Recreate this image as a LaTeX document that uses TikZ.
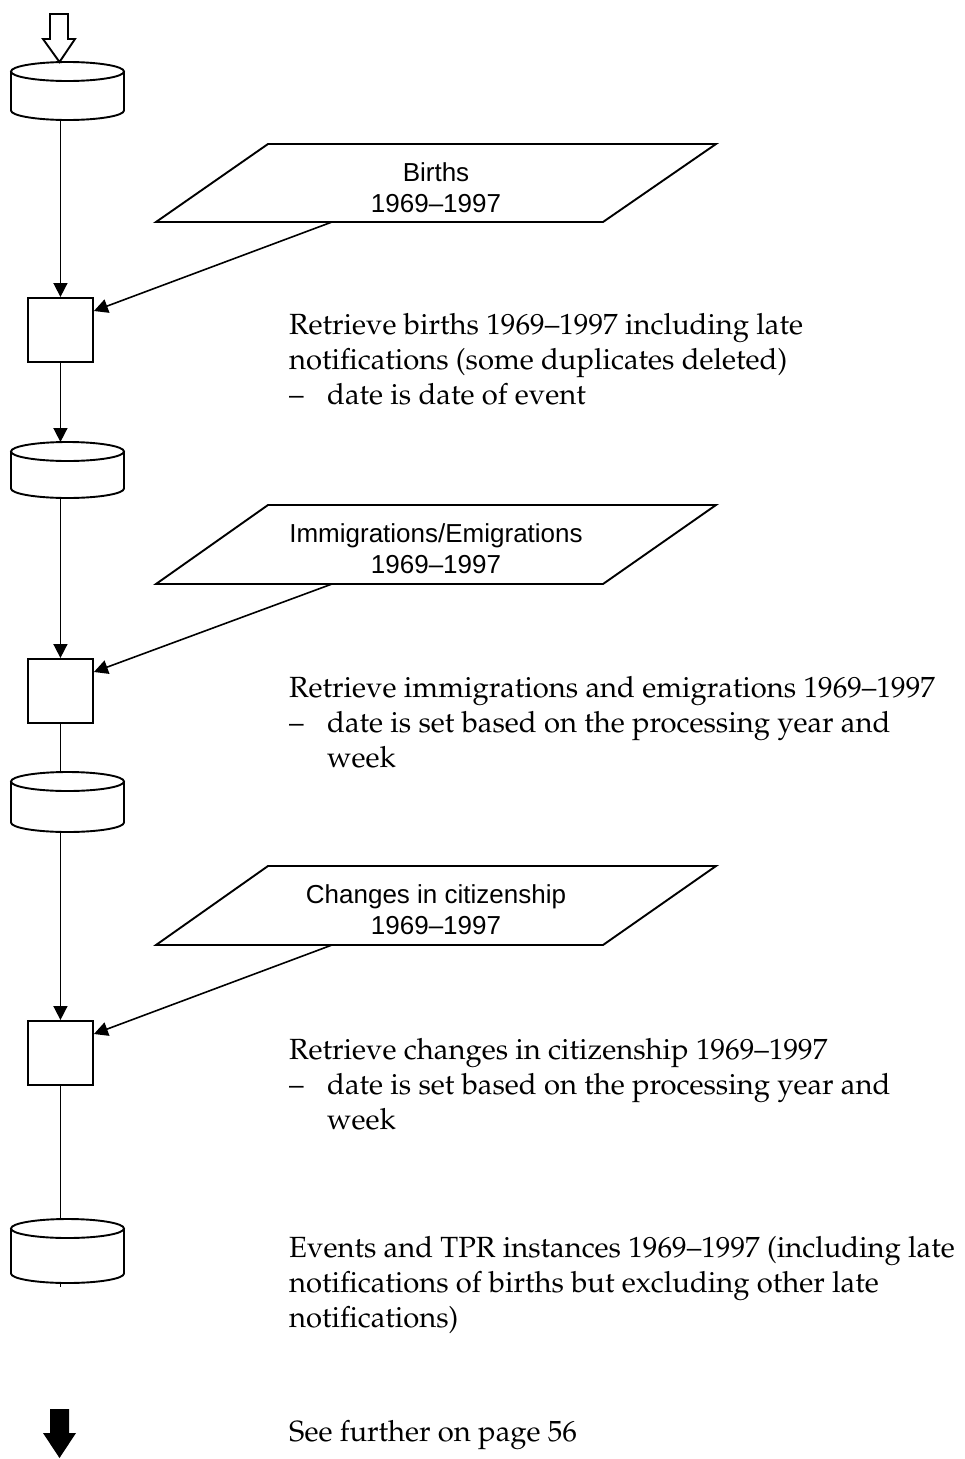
\documentclass[tikz,border=0pt]{standalone}
\usepackage{fontspec}
\usepackage[T1,TU]{fontenc}
\newfontfamily\labelsans{Liberation Sans}
\usetikzlibrary{arrows.meta}
% Palatino for the running notes (Type 1 via NFSS)
\newcommand\notefont{\fontencoding{T1}\fontfamily{ppl}\fontsize{29.2}{35}\selectfont}
\newcommand\dataset[4]{% name, left x, top y, bottom y
  \node[inner sep=0, minimum width=113pt, minimum height={(#4-#3)*1pt}, anchor=north west] (#1) at (#2,#3) {};
  \draw[outline] (#2,#3+9.5) -- (#2,#4-9.5) arc[start angle=180, end angle=360, x radius=56.5pt, y radius=9.5pt]
    -- (#2+113,#3+9.5);
  \draw[outline] (#2+56.5,#3+9.5) ellipse [x radius=56.5pt, y radius=9.5pt];
}
\tikzset{
  outline/.style={draw=black, line width=1.9pt, line join=miter},
  flow/.style={line width=1.6pt},
  arr/.style={flow, -{Triangle[length=14pt,width=14pt]}},
  stepbox/.style={outline, minimum width=65pt, minimum height=64pt, inner sep=0pt, anchor=north west},
  inputlabel/.style={align=center, inner sep=0pt, font=\labelsans\fontsize{26}{31}\selectfont},
  note/.style={anchor=north west, align=left, inner sep=0pt, font=\notefont},
}
\begin{document}
\begin{tikzpicture}[x=1pt, y=-1pt]
\useasboundingbox (0,0) rectangle (965,1459);

% entry arrow (hollow)
\coordinate (entry) at (59.5,62);
\draw[outline] (50,14) -- (68,14) -- (68,39) -- (75,39) -- (entry) -- (43,39) -- (50,39) -- cycle;

% data sets
\dataset{s1}{11}{62}{120}
\dataset{s2}{11}{442}{498}
\dataset{s3}{11}{772}{832}
\dataset{s4}{11}{1219}{1283}

% processing steps
\node[stepbox] (p1) at (27,297) {};
\node[stepbox] (p2) at (27,658) {};
\node[stepbox] (p3) at (27,1020) {};

% input sources
\draw[outline] (156,222) -- (268,144) -- (716,144) -- (603,222) -- cycle;
\node[inputlabel] (in1) at (436,188) {Births\\1969–1997};
\coordinate (in1b) at (332,222);

\draw[outline] (156,584) -- (268,505) -- (716,505) -- (603,584) -- cycle;
\node[inputlabel] (in2) at (436,549) {Immigrations/Emigrations\\1969–1997};
\coordinate (in2b) at (332,584);

\draw[outline] (156,945) -- (268,866) -- (716,866) -- (603,945) -- cycle;
\node[inputlabel] (in3) at (436,910) {Changes in citizenship\\1969–1997};
\coordinate (in3b) at (332,945);

% main flow
\draw[arr] (s1.south -| p1.north) -- (p1.north);
\draw[arr] (p1.south) -- (p1.south |- s2.north);
\draw[arr] (s2.south -| p2.north) -- (p2.north);
\draw[flow] (p2.south) -- (p2.south |- s3.north);
\draw[arr] (s3.south -| p3.north) -- (p3.north);
\draw[flow] (p3.south) -- (p3.south |- s4.north);
\draw[flow] (s4.south -| p3.south) -- ++(0,4);

% inputs into steps
\draw[arr] (in1b) -- ([yshift=-14pt]p1.north east);
\draw[arr] (in2b) -- ([yshift=-14pt]p2.north east);
\draw[arr] (in3b) -- ([yshift=-14pt]p3.north east);

% notes
\node[note] (n1) at (289,313) {Retrieve births 1969--1997 including late\\notifications (some duplicates deleted)\\\makebox[38pt][l]{--}date is date of event};
\node[note] (n2) at (289,676) {Retrieve immigrations and emigrations 1969--1997\\\makebox[38pt][l]{--}date is set based on the processing year and\\\hspace*{38pt}week};
\node[note] (n3) at (289,1038) {Retrieve changes in citizenship 1969--1997\\\makebox[38pt][l]{--}date is set based on the processing year and\\\hspace*{38pt}week};
\node[note] (n4) at (289,1236) {Events and TPR instances 1969--1997 (including late\\notifications of births but excluding other late\\notifications)};
\node[note] (n5) at (289,1420) {See further on page 56};

% continuation arrow (solid)
\coordinate (exit) at (59.5,1458);
\fill[black] (50,1409) -- (69,1409) -- (69,1433) -- (76,1433) -- (exit) -- (43,1433) -- (50,1433) -- cycle;
\end{tikzpicture}
\end{document}
